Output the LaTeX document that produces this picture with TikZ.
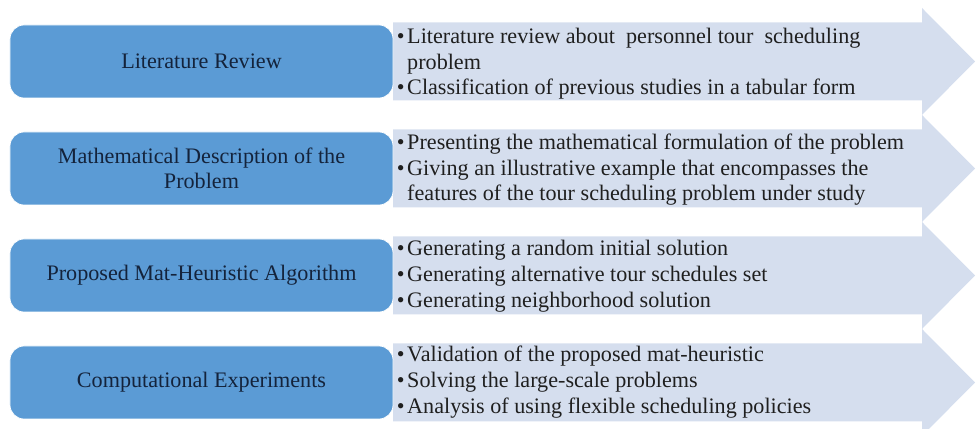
\documentclass[tikz,border=0pt]{standalone}
\usepackage{fontspec}
\setmainfont{Liberation Serif}
\usepackage{tikz}

\definecolor{stageblue}{HTML}{5B9BD5}
\definecolor{pointerfill}{HTML}{D5DEEE}
\definecolor{stagetext}{HTML}{14233B}

\begin{document}
\begin{tikzpicture}[
            stage/.style={rounded corners=8pt, fill=stageblue, draw=white, thin,
                minimum width=7.66cm, minimum height=1.46cm, align=center,
                text=stagetext, font=\fontsize{12.6}{14}\selectfont},
            pointer/.style={fill=pointerfill},
            points/.style={anchor=west, inner sep=0pt, align=left,
                text=black!88, font=\fontsize{12.6}{14.6}\selectfont}
        ]
        \clip (0,0) rectangle (19.6,8.58);

        % --- Arrows behind the stages ---
        \fill[pointer] (7.86,6.57) -- ++(10.58,0) -- ++(0,-0.29) -- ++(1.06,1.07)
            -- ++(-1.06,1.07) -- ++(0,-0.29) -- ++(-10.58,0) -- cycle;
        \fill[pointer] (7.86,4.43) -- ++(10.58,0) -- ++(0,-0.29) -- ++(1.06,1.07)
            -- ++(-1.06,1.07) -- ++(0,-0.29) -- ++(-10.58,0) -- cycle;
        \fill[pointer] (7.86,2.29) -- ++(10.58,0) -- ++(0,-0.29) -- ++(1.06,1.07)
            -- ++(-1.06,1.07) -- ++(0,-0.29) -- ++(-10.58,0) -- cycle;
        \fill[pointer] (7.86,0.15) -- ++(10.58,0) -- ++(0,-0.29) -- ++(1.06,1.07)
            -- ++(-1.06,1.07) -- ++(0,-0.29) -- ++(-10.58,0) -- cycle;

        % --- Stages ---
        \node[stage] (lit)  at (4.03,7.35) {Literature Review};
        \node[stage] (math) at (4.03,5.21) {Mathematical Description of the\\Problem};
        \node[stage] (heur) at (4.03,3.07) {Proposed Mat-Heuristic Algorithm};
        \node[stage] (comp) at (4.03,0.93) {Computational Experiments};

        % --- Bullet points ---
        \node[points] (litpts) at (7.93,7.30) {%
            \begin{tabular}{@{}l@{\hspace{1.5pt}}l@{}}
            \textbullet & Literature review about~ personnel tour~ scheduling\\
                        & problem\\
            \textbullet & Classification of previous studies in a tabular form
            \end{tabular}};
        \node[points] (mathpts) at (7.93,5.18) {%
            \begin{tabular}{@{}l@{\hspace{1.5pt}}l@{}}
            \textbullet & Presenting the mathematical formulation of the problem\\
            \textbullet & Giving an illustrative example that encompasses the\\
                        & features of the tour scheduling problem under study
            \end{tabular}};
        \node[points] (heurpts) at (7.93,3.05) {%
            \begin{tabular}{@{}l@{\hspace{1.5pt}}l@{}}
            \textbullet & Generating a random initial solution\\
            \textbullet & Generating alternative tour schedules set\\
            \textbullet & Generating neighborhood solution
            \end{tabular}};
        \node[points] (comppts) at (7.93,0.93) {%
            \begin{tabular}{@{}l@{\hspace{1.5pt}}l@{}}
            \textbullet & Validation of the proposed mat-heuristic\\
            \textbullet & Solving the large-scale problems\\
            \textbullet & Analysis of using flexible scheduling policies
            \end{tabular}};
        \end{tikzpicture}
\end{document}
